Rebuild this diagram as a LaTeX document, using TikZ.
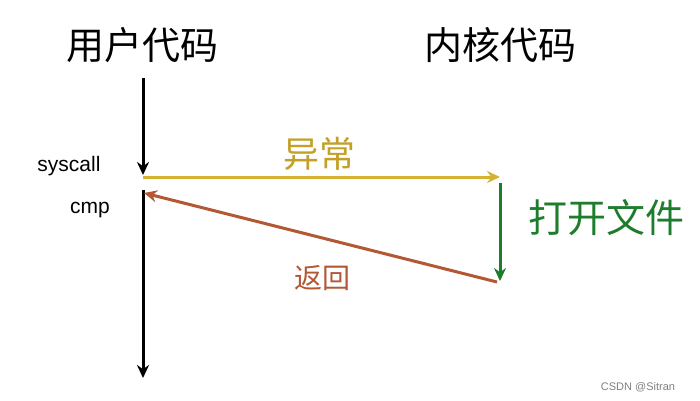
\documentclass[tikz,border=0pt]{standalone}
\usepackage{fontspec}
\setmainfont{Liberation Sans}
\newfontfamily\cjk{Noto Sans CJK SC}
\usetikzlibrary{arrows.meta}
\definecolor{yel}{RGB}{212,178,52}
\definecolor{ytxt}{RGB}{196,160,40}
\definecolor{grn}{RGB}{30,125,45}
\definecolor{brn}{RGB}{178,88,52}
\tikzset{arr/.style={line width=3pt,-{Stealth[length=13pt,width=12pt]}},
lbl/.style={inner sep=0pt}}
\begin{document}
\begin{tikzpicture}[x=1pt,y=-1pt]
\useasboundingbox[fill=white] (0,0) rectangle (700,400);
\node[lbl,font=\cjk\fontsize{38}{40}\selectfont] (u) at (142,45) {用户代码};
\node[lbl,font=\cjk\fontsize{38}{40}\selectfont] (k) at (500,45) {内核代码};
\node[lbl,font=\fontsize{21}{23}\selectfont] (sc) at (69,166) {syscall};
\node[lbl,font=\fontsize{21}{23}\selectfont] (cmp) at (90,210) {cmp};
\coordinate (a1) at (143,78); \coordinate (a2) at (143,175);
\coordinate (b1) at (143,190); \coordinate (b2) at (143,378);
\coordinate (y1) at (143,177); \coordinate (y2) at (500,177);
\coordinate (g1) at (500,183); \coordinate (g2) at (500,281);
\coordinate (r1) at (497,282); \coordinate (r2) at (144,193);
\draw[arr,black] (a1)--(a2);
\draw[arr,black] (b1)--(b2);
\draw[arr,yel] (y1)--(y2);
\draw[arr,grn] (g1)--(g2);
\draw[arr,brn] (r1)--(r2);
\node[lbl,text=ytxt,font=\cjk\fontsize{36}{38}\selectfont] (e) at (319,154) {异常};
\node[lbl,text=grn,font=\cjk\fontsize{39}{41}\selectfont] (o) at (606,218) {打开文件};
\node[lbl,text=brn,font=\cjk\fontsize{28}{30}\selectfont] (f) at (322,278) {返回};
\node[lbl,text=gray,font=\fontsize{11}{12}\selectfont] (c) at (638,387) {CSDN @Sitran};
\end{tikzpicture}
\end{document}
